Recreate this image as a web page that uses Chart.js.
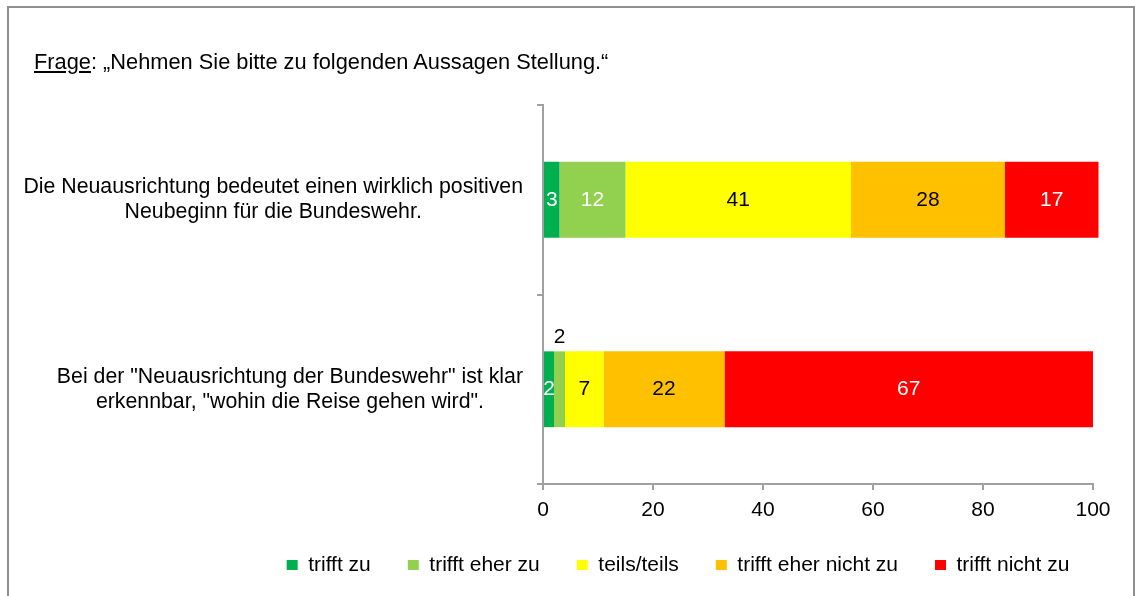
<!DOCTYPE html>
<html>
<head>
<meta charset="utf-8">
<style>
  body { margin: 0; background: #fff; font-family: "Liberation Sans", Arial, sans-serif; }
  #wrap { position: relative; width: 1135px; height: 596px; overflow: hidden; }
  #frame { position: absolute; left: 7px; top: 6px; width: 1124px; height: 640px; border: 2px solid #8f8f8f; pointer-events: none; }
  #frage { position: absolute; left: 34px; top: 50px; font-size: 21.8px; line-height: 24px; color: #000; white-space: nowrap; }
  canvas { position: absolute; left: 0; top: 0; }
</style>
</head>
<body>
<div id="wrap">
  <canvas id="chart" width="1135" height="596"></canvas>
  <div id="frage"><u>Frage</u>: „Nehmen Sie bitte zu folgenden Aussagen Stellung.“</div>
  <div id="frame"></div>
</div>

<script src="https://cdn.jsdelivr.net/npm/chart.js@4.4.1/dist/chart.umd.min.js"></script>
<script>
  const categories = [
    ['Die Neuausrichtung bedeutet einen wirklich positiven', 'Neubeginn für die Bundeswehr.'],
    ['Bei der "Neuausrichtung der Bundeswehr" ist klar', 'erkennbar, "wohin die Reise gehen wird".']
  ]
  const seriesNames = ['trifft zu', 'trifft eher zu', 'teils/teils', 'trifft eher nicht zu', 'trifft nicht zu']
  const trifftZu = [3, 2]
  const trifftEherZu = [12, 2]
  const teilsTeils = [41, 7]
  const trifftEherNichtZu = [28, 22]
  const trifftNichtZu = [17, 67]
  const xTicks = [0, 20, 40, 60, 80, 100]

  const colors = ['#00B050', '#92D050', '#FFFF00', '#FFC000', '#FF0000']
  const labelColors = ['#fff', '#fff', '#000', '#000', '#fff']
  // value labels that sit above their bar (series index, category index)
  const movedLabels = [[1, 1]]

  const FONT = '"Liberation Sans", Arial, sans-serif'
  Chart.defaults.font.family = FONT
  Chart.defaults.font.size = 21
  Chart.defaults.color = '#000'

  // category labels: block right aligned, lines centred in the block
  const yLabelPlugin = {
    id: 'yLabels',
    afterDraw(chart) {
      const ctx = chart.ctx
      const y = chart.scales.y
      ctx.save()
      ctx.font = '21.3px ' + FONT
      ctx.fillStyle = '#000'
      ctx.textAlign = 'center'
      ctx.textBaseline = 'middle'
      categories.forEach((lines, i) => {
        const w = Math.max(...lines.map((l) => ctx.measureText(l).width))
        const cx = y.right - 20 - w / 2
        const cy = y.getPixelForTick(i)
        lines.forEach((l, k) => {
          ctx.fillText(l, cx, cy + (k - (lines.length - 1) / 2) * 25)
        })
      })
      ctx.restore()
    }
  }

  const valueLabelPlugin = {
    id: 'valueLabels',
    afterDatasetsDraw(chart) {
      const ctx = chart.ctx
      ctx.save()
      ctx.font = '21px ' + FONT
      ctx.textAlign = 'center'
      ctx.textBaseline = 'middle'
      chart.data.datasets.forEach((ds, di) => {
        chart.getDatasetMeta(di).data.forEach((bar, i) => {
          const above = movedLabels.some((m) => m[0] === di && m[1] === i)
          const x = (bar.x + bar.base) / 2
          const yy = above ? bar.y - bar.height / 2 - 14 : bar.y
          ctx.fillStyle = above ? '#000' : labelColors[di]
          ctx.fillText(ds.data[i], x, yy)
        })
      })
      ctx.restore()
    }
  }

  const seriesData = [trifftZu, trifftEherZu, teilsTeils, trifftEherNichtZu, trifftNichtZu]

  let chart = new Chart(document.getElementById('chart'), {
    type: 'bar',
    data: {
      labels: categories,
      datasets: seriesData.map((d, i) => ({
        label: seriesNames[i],
        data: d,
        backgroundColor: colors[i],
        borderWidth: 0,
        barPercentage: 0.4,
        categoryPercentage: 1,
        clip: false,
      })),
    },
    options: {
      indexAxis: 'y',
      responsive: false,
      animation: false,
      layout: { padding: { top: 105, left: 221, right: 0, bottom: 11.5 } },
      scales: {
        x: {
          stacked: true,
          min: 0,
          max: 100,
          afterBuildTicks: (s) => { s.ticks = xTicks.map((v) => ({ value: v })) },
          afterFit: (s) => { s.height = 33.5 },
          ticks: { padding: 8, color: '#000', font: { size: 21 } },
          grid: { drawOnChartArea: false, tickLength: 6, color: '#a0a0a0', lineWidth: 2 },
          border: { color: '#a0a0a0', width: 2 },
        },
        y: {
          stacked: true,
          afterFit: (s) => { s.width = 322 },
          ticks: { display: false },
          grid: { offset: true, drawOnChartArea: false, tickLength: 6, color: '#a0a0a0', lineWidth: 2 },
          border: { color: '#a0a0a0', width: 2 },
        },
        y2: {
          type: 'linear',
          position: 'right',
          afterFit: (s) => { s.width = 42 },
          ticks: { display: false },
          grid: { display: false },
          border: { display: false },
        },
      },
      plugins: {
        tooltip: { enabled: false },
        legend: {
          position: 'bottom',
          maxHeight: 67,
          labels: { boxWidth: 11, boxHeight: 10, padding: 37, color: '#000', font: { size: 21 } },
        },
      },
    },
    plugins: [yLabelPlugin, valueLabelPlugin],
  })
</script>
</body>
</html>
